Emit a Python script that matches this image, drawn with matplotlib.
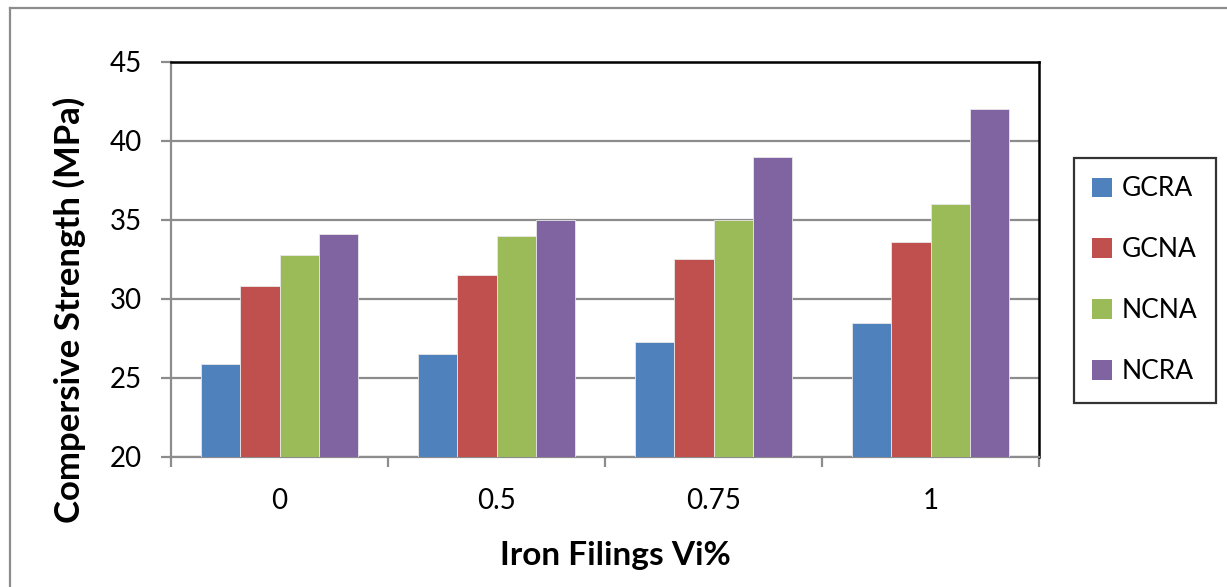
import numpy as np
import matplotlib.pyplot as plt
from matplotlib.lines import Line2D

plt.rcParams['font.family'] = ['Lato', 'DejaVu Sans']

# compressive strength (MPa) for each iron filings content
categories = ['0', '0.5', '0.75', '1']
gcra = [25.9, 26.5, 27.3, 28.5]
gcna = [30.8, 31.5, 32.5, 33.6]
ncna = [32.8, 34.0, 35.0, 36.0]
ncra = [34.1, 35.0, 39.0, 42.0]

series = [('GCRA', gcra, '#4F81BD'),
          ('GCNA', gcna, '#C0504D'),
          ('NCNA', ncna, '#9BBB59'),
          ('NCRA', ncra, '#8064A2')]

fig = plt.figure(figsize=(12.27, 5.87), dpi=100)
ax = fig.add_axes([0.1394, 0.2215, 0.7074, 0.6729])

x = np.arange(len(categories))
w = 0.18
for i, (name, vals, col) in enumerate(series):
    ax.bar(x + (i - 1.5) * w, vals, w, color=col, label=name,
           edgecolor='#e8e8e8', linewidth=0.6, zorder=3)

ax.set_xlim(-0.5, len(categories) - 0.5)
ax.set_ylim(20, 45)
ax.set_yticks(np.arange(20, 46, 5))
ax.yaxis.grid(True, color='#8c8c8c', linewidth=1.6, zorder=0)
ax.set_axisbelow(True)

# category ticks at the group boundaries
ax.set_xticks(np.arange(-0.5, len(categories), 1.0))
ax.set_xticklabels([])
ax.set_xticks(x, minor=True)
ax.set_xticklabels(categories, minor=True, fontsize=20)
ax.tick_params(axis='x', which='minor', length=0, pad=22)
ax.tick_params(axis='x', which='major', length=7, width=1.6, color='#8c8c8c')
ax.tick_params(axis='y', length=7, width=1.6, color='#8c8c8c', labelsize=20, pad=14)

for s in ['left', 'bottom']:
    ax.spines[s].set_color('#8c8c8c')
    ax.spines[s].set_linewidth(1.6)
for s in ['top', 'right']:
    ax.spines[s].set_color('black')
    ax.spines[s].set_linewidth(1.8)

ax.set_ylabel('Compersive Strength (MPa)', fontsize=25, fontweight='bold',
              labelpad=17, y=0.372)
ax.set_xlabel('Iron Filings Vi%', fontsize=24, fontweight='bold',
              labelpad=20, x=0.5115)

leg = fig.legend(loc='upper left', bbox_to_anchor=(1074 / 1227, 1 - 158 / 587),
                 fontsize=19, frameon=True, fancybox=False, edgecolor='black',
                 handlelength=0.75, handleheight=0.75, handletextpad=0.35,
                 labelspacing=1.36, borderpad=0.7, borderaxespad=0)
leg.get_frame().set_linewidth(1.6)
for h in leg.legend_handles:
    h.set_edgecolor('none')

# outer chart frame
fig.add_artist(Line2D([10 / 1227, 1], [1 - 8 / 587] * 2, color='#8c8c8c', lw=1.6))
fig.add_artist(Line2D([10 / 1227] * 2, [0, 1 - 8 / 587], color='#8c8c8c', lw=1.6))

fig.savefig('out.png', dpi=100)
